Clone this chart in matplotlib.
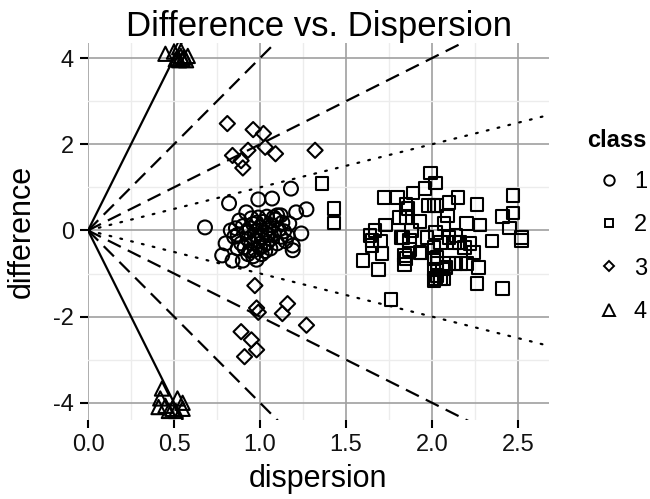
import matplotlib
matplotlib.use("Agg")
import matplotlib.pyplot as plt
from matplotlib.lines import Line2D
from matplotlib.ticker import MultipleLocator

plt.rcParams['font.family'] = ['Liberation Sans', 'DejaVu Sans']
plt.rcParams['axes.unicode_minus'] = False

# ---- data ----
# class 1 (circles)
c1_x = [0.68, 0.82, 0.99, 1.07, 1.18, 1.21, 1.27, 0.78, 0.84, 0.90, 0.98, 1.19,
        1.24, 1.19, 1.17, 1.10, 0.88, 0.92, 0.83, 0.87, 0.94, 0.80, 0.85,
        0.90, 0.92, 0.93, 0.94, 0.95, 0.96, 0.97, 0.98, 0.99, 1.00, 1.01, 1.02,
        1.03, 1.04, 1.05, 1.06, 1.07, 1.08, 1.09, 1.10, 1.11, 1.12, 1.13, 1.14,
        1.15, 0.89, 0.91, 0.97, 1.00, 1.03, 0.95, 0.99, 1.04, 1.08, 0.93, 1.01,
        1.06, 1.16, 1.12, 0.96, 0.86, 0.87, 1.02, 0.98, 1.05]
c1_y = [0.07, 0.63, 0.72, 0.74, 0.97, 0.42, 0.49, -0.58, -0.70, -0.70, -0.68, -0.46,
        -0.07, -0.35, 0.16, 0.35, 0.23, 0.42, 0.00, -0.42, -0.47, -0.30, -0.15,
        0.10, -0.05, -0.20, 0.05, -0.30, 0.15, -0.10, 0.00, -0.25, 0.08, -0.15, 0.20,
        -0.05, -0.30, 0.05, -0.20, 0.12, -0.08, 0.25, -0.30, 0.02, -0.15, 0.18, -0.02,
        -0.25, -0.30, -0.40, -0.45, -0.40, -0.48, 0.28, 0.30, 0.32, 0.30, -0.55, -0.55,
        -0.42, -0.12, 0.35, -0.60, 0.05, -0.10, -0.35, 0.18, -0.10]

# class 2 (squares)
c2_x = [1.36, 1.43, 1.43, 1.99, 2.02, 1.96, 1.89, 1.72, 1.80, 1.85, 1.86,
        1.98, 2.01, 2.03, 2.10, 2.15, 2.26, 2.47, 2.47, 2.41, 2.45, 2.52, 2.52,
        2.35, 2.28, 2.20, 2.09, 2.07, 1.81, 1.85, 1.93, 1.73, 1.67, 1.64, 1.70,
        1.65, 1.71, 1.60, 1.69, 1.88, 1.82, 1.87, 1.97, 2.02, 2.05, 2.01, 2.10,
        2.14, 2.16, 2.19, 2.22, 2.24, 1.84, 1.85, 1.93, 2.01, 2.03, 2.10, 2.14,
        2.17, 2.20, 2.01, 2.06, 2.02, 2.05, 2.07, 2.27, 2.26, 2.41, 1.76,
        1.87, 1.84, 1.94, 2.03, 2.13, 2.08, 2.03, 2.01, 1.65, 1.83]
c2_y = [1.09, 0.51, 0.17, 1.33, 1.10, 0.97, 0.87, 0.76, 0.76, 0.62, 0.51,
        0.58, 0.58, 0.58, 0.65, 0.76, 0.60, 0.81, 0.40, 0.32, 0.05, -0.16, -0.23,
        -0.25, 0.12, 0.16, 0.33, 0.16, 0.30, 0.30, 0.21, 0.12, 0.00, -0.12, -0.25,
        -0.35, -0.54, -0.70, -0.91, 0.00, -0.16, -0.23, -0.16, -0.05, -0.28, -0.40, -0.16,
        -0.12, -0.28, -0.40, -0.30, -0.51, -0.58, -0.65, -0.51, -0.65, -0.77, -0.77, -0.77,
        -0.77, -0.77, -0.91, -0.89, -1.12, -1.12, -1.12, -0.86, -1.23, -1.35, -1.60,
        -0.44, -0.79, -0.53, -0.63, -0.28, -0.86, -1.05, -1.16, -0.23, -0.16]

# class 3 (diamonds)
c3_x = [0.81, 0.96, 1.02, 0.93, 1.03, 1.09, 0.84, 0.89, 0.90, 1.32,
        0.97, 0.98, 0.99, 1.16, 1.13, 1.27, 0.89, 0.95, 0.98, 0.91]
c3_y = [2.48, 2.34, 2.25, 1.86, 1.93, 1.78, 1.74, 1.62, 1.45, 1.86,
        -1.28, -1.80, -1.90, -1.70, -1.93, -2.20, -2.35, -2.54, -2.77, -2.93]

# class 4 (triangles)
c4_x = [0.45, 0.50, 0.52, 0.53, 0.54, 0.55, 0.56, 0.53, 0.58, 0.51, 0.57,
        0.43, 0.42, 0.41, 0.45, 0.49, 0.52, 0.55, 0.55, 0.47, 0.51]
c4_y = [4.10, 4.15, 4.00, 3.95, 4.05, 3.98, 4.02, 4.25, 4.05, 3.97, 3.95,
        -3.67, -3.90, -4.10, -4.07, -4.14, -3.90, -4.00, -4.14, -4.19, -4.19]

# reference lines through the origin
solid_slopes = [8, -8]
dashed_slopes = [4, -4, 2, -2]
dotted_slopes = [1, -1]

x_ticks = [0.0, 0.5, 1.0, 1.5, 2.0, 2.5]
y_ticks = [-4, -2, 0, 2, 4]
class_labels = ['1', '2', '3', '4']

xmax = 2.68
fig = plt.figure(figsize=(6.5, 4.99), dpi=100)
ax = fig.add_axes([0.1354, 0.1583, 0.7092, 0.7555])

for s in solid_slopes:
    ax.plot([0, xmax], [0, s * xmax], color='black', lw=1.6, ls='-', zorder=3)
for s in dashed_slopes:
    ax.plot([0, xmax], [0, s * xmax], color='black', lw=1.6, ls=(0, (6.5, 3.5)), zorder=3)
for s in dotted_slopes:
    ax.plot([0, xmax], [0, s * xmax], color='black', lw=1.6, ls=(0, (0.8, 4.2)),
            dash_capstyle='round', zorder=3)

mk = dict(facecolors='none', edgecolors='black', linewidths=1.5, zorder=4)
ax.scatter(c1_x, c1_y, marker='o', s=100, **mk)
ax.scatter(c2_x, c2_y, marker='s', s=80, **mk)
ax.scatter(c3_x, c3_y, marker='D', s=60, **mk)
ax.scatter(c4_x, c4_y, marker='^', s=105, **mk)

ax.set_xlim(0, xmax)
ax.set_ylim(-4.4, 4.35)
ax.set_xticks(x_ticks)
ax.set_xticklabels(['%.1f' % v for v in x_ticks])
ax.set_yticks(y_ticks)
ax.xaxis.set_minor_locator(MultipleLocator(0.25))
ax.yaxis.set_minor_locator(MultipleLocator(1))
ax.grid(which='major', color='#a0a0a0', lw=1.2, zorder=0)
ax.grid(which='minor', color='#ececec', lw=1.0, zorder=0)
ax.set_axisbelow(True)
for sp in ax.spines.values():
    sp.set_visible(False)
ax.tick_params(which='major', length=6, width=1.5, color='black', labelsize=17,
               labelcolor='#111111', pad=4)
ax.tick_params(which='minor', length=0)

ax.set_title('Difference vs. Dispersion', fontsize=25, pad=5)
ax.set_xlabel('dispersion', fontsize=22, labelpad=6)
ax.set_ylabel('difference', fontsize=22, labelpad=12)

# legend: title as its own text, keys indented under it
fig.text(0.903, 0.7194, 'class', fontsize=17, fontweight='bold', ha='left', va='center')
markers = ['o', 's', 'D', '^']
sizes = [7.5, 6.3, 5.5, 8]
handles = [Line2D([], [], ls='none', marker=m, ms=ms, mfc='none', mec='black', mew=1.4)
           for m, ms in zip(markers, sizes)]
ax.legend(handles, class_labels, loc='center left',
          bbox_to_anchor=(0.9185, 0.505), bbox_transform=fig.transFigure,
          frameon=False, fontsize=17, handlelength=1.0, handletextpad=0.56,
          labelspacing=0.91, borderpad=0, borderaxespad=0)

fig.savefig('out.png', dpi=100)
